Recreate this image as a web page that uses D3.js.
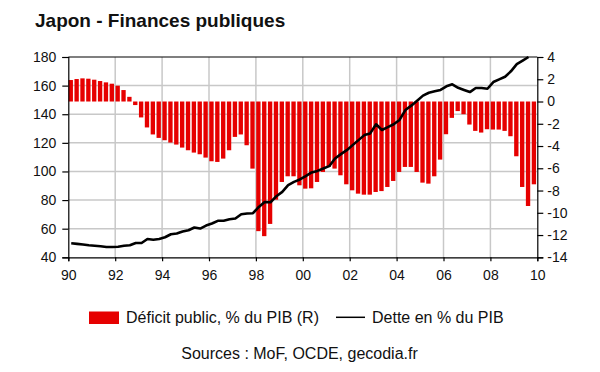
<!DOCTYPE html>
<html>
<head>
<meta charset="utf-8">
<script src="https://cdn.jsdelivr.net/npm/d3@7"></script>
<style>
  body { margin: 0; background: #fff; }
  svg text { font-family: "Liberation Sans", Arial, sans-serif; fill: #111; }
</style>
</head>
<body>
<svg id="chart" width="600" height="372"></svg>
<script>
// quarterly data, first quarter of 1990 onward
var startYear = 1990,
    endYear = 2010;

// Déficit public, % du PIB (right axis)
var deficit = [
    1.93, 2.02, 2.08, 2.05, 1.96, 1.84, 1.72, 1.6, 1.42, 1.03,
    0.42, -0.32, -1.43, -2.33, -2.96, -3.27, -3.48, -3.69, -3.87, -4.14,
    -4.38, -4.59, -4.74, -5.04, -5.37, -5.43, -5.13, -4.38, -3.18, -2.96,
    -3.93, -6.03, -11.65, -12.1, -11.0, -8.82, -7.23, -6.72, -6.72, -7.53,
    -7.83, -7.8, -7.23, -6.33, -5.88, -6.03, -6.63, -7.44, -7.98, -8.28,
    -8.37, -8.37, -8.13, -8.05, -7.68, -7.14, -6.33, -5.88, -5.88, -6.33,
    -7.29, -7.38, -6.72, -5.22, -2.94, -1.47, -0.86, -1.14, -2.07, -2.64,
    -2.79, -2.49, -2.52, -2.52, -2.64, -3.12, -4.92, -7.68, -9.39, -7.44
];

// Dette en % du PIB (left axis)
var debt = [
    49.8, 49.4, 48.9, 48.4, 48.1, 47.7, 47.2, 47.2, 47.4, 48.1,
    48.4, 50, 50, 52.8, 52.3, 52.8, 54.0, 56.1, 56.6, 58.0,
    58.9, 60.8, 60.1, 62.2, 63.6, 65.5, 65.5, 66.6, 67.1, 70.1,
    70.6, 70.8, 75.2, 78.7, 78.5, 82.7, 85.7, 90.4, 92.7, 94.4,
    96.7, 99.3, 100.4, 102.1, 103.7, 109.1, 112.1, 114.9, 118.4, 121.9,
    125.4, 126.6, 133, 129, 131, 133, 136, 142.9, 146, 149.5,
    153, 155, 156, 157, 159.5, 160.9, 158.5, 157, 155.5, 158.3,
    158.3, 157.8, 162.5, 164.4, 166.2, 170, 175, 177.5, 180
];

var leftTicks = [40, 60, 80, 100, 120, 140, 160, 180],
    rightTicks = [4, 2, 0, -2, -4, -6, -8, -10, -12, -14],
    yearTicks = [1990, 1992, 1994, 1996, 1998, 2000, 2002, 2004, 2006, 2008, 2010];

var title = 'Japon - Finances publiques',
    legendLabels = ['Déficit public, % du PIB (R)', 'Dette en % du PIB'],
    sourceText = 'Sources : MoF, OCDE, gecodia.fr';

var margin = {left: 68.3, right: 62.7, top: 57, bottom: 114.7},
    width = 600 - margin.left - margin.right,
    height = 372 - margin.top - margin.bottom,
    barColor = '#e60000',
    gridColor = '#c8c8c8';

var svg = d3.select('#chart');

svg.append('text')
    .attr('x', 35)
    .attr('y', 27)
    .attr('font-size', 19)
    .attr('font-weight', 'bold')
    .text(title);

var g = svg.append('g')
    .attr('transform', 'translate(' + margin.left + ',' + margin.top + ')');

var x = d3.scaleLinear().domain([startYear, endYear]).range([0, width]),
    yLeft = d3.scaleLinear().domain([40, 180]).range([height, 0]),
    yRight = d3.scaleLinear().domain([-14, 4]).range([height, 0]);

var quarterWidth = x(startYear + 0.25) - x(startYear),
    barWidth = quarterWidth * 0.74;

function quarterTime(i) {
    return startYear + i / 4;
}

// grid
g.append('g')
    .selectAll('line.h')
    .data(leftTicks.slice(1, -1))
    .enter()
    .append('line')
        .attr('x1', 0)
        .attr('x2', width)
        .attr('y1', yLeft)
        .attr('y2', yLeft)
        .attr('stroke', gridColor)
        .attr('stroke-width', 1.5);

g.append('g')
    .selectAll('line.v')
    .data(yearTicks.slice(1, -1))
    .enter()
    .append('line')
        .attr('x1', x)
        .attr('x2', x)
        .attr('y1', 0)
        .attr('y2', height)
        .attr('stroke', gridColor)
        .attr('stroke-width', 1.5);

// deficit bars
g.append('g')
    .selectAll('rect')
    .data(deficit)
    .enter()
    .append('rect')
        .attr('x', function(d, i) { return x(quarterTime(i)) + 0.3; })
        .attr('width', barWidth)
        .attr('y', function(d) { return yRight(Math.max(0, d)); })
        .attr('height', function(d) { return Math.abs(yRight(d) - yRight(0)); })
        .attr('fill', barColor);

// debt line
var line = d3.line()
    .x(function(d, i) { return x(quarterTime(i) + 0.125); })
    .y(function(d) { return yLeft(d); });

g.append('path')
    .datum(debt)
    .attr('d', line)
    .attr('fill', 'none')
    .attr('stroke', '#000')
    .attr('stroke-width', 2.6)
    .attr('stroke-linejoin', 'round');

// top border
g.append('line')
    .attr('x1', 0)
    .attr('x2', width)
    .attr('y1', 0)
    .attr('y2', 0)
    .attr('stroke', '#000')
    .attr('stroke-width', 1.2);

// axes
function styleAxis(sel) {
    sel.select('.domain').attr('stroke', '#000').attr('stroke-width', 1.2);
    sel.selectAll('.tick line').attr('stroke', '#000').attr('stroke-width', 1.2);
    sel.selectAll('.tick text')
        .attr('font-size', 14)
        .attr('font-family', '"Liberation Sans", Arial, sans-serif')
        .attr('fill', '#111');
}

g.append('g')
    .call(d3.axisLeft(yLeft).tickValues(leftTicks).tickSizeOuter(0).tickSize(6).tickPadding(6))
    .call(styleAxis);

g.append('g')
    .attr('transform', 'translate(' + width + ',0)')
    .call(d3.axisRight(yRight).tickValues(rightTicks).tickSizeOuter(0).tickSize(6).tickPadding(4)
        .tickFormat(function(d) { return String(d); }))
    .call(styleAxis);

g.append('g')
    .attr('transform', 'translate(0,' + height + ')')
    .call(d3.axisBottom(x).tickValues(yearTicks).tickSizeOuter(0).tickSize(4).tickPadding(9)
        .tickFormat(function(d) { return String(d % 100).padStart(2, '0'); }))
    .call(styleAxis);

// legend
var legend = svg.append('g');

legend.append('rect')
    .attr('x', 89)
    .attr('y', 311.5)
    .attr('width', 30)
    .attr('height', 12.5)
    .attr('fill', barColor);

legend.append('text')
    .attr('x', 126)
    .attr('y', 323)
    .attr('font-size', 16)
    .text(legendLabels[0]);

legend.append('line')
    .attr('x1', 336)
    .attr('x2', 365)
    .attr('y1', 317.3)
    .attr('y2', 317.3)
    .attr('stroke', '#000')
    .attr('stroke-width', 1.5);

legend.append('text')
    .attr('x', 372)
    .attr('y', 323)
    .attr('font-size', 16)
    .text(legendLabels[1]);

svg.append('text')
    .attr('x', 299.5)
    .attr('y', 358.5)
    .attr('text-anchor', 'middle')
    .attr('font-size', 16)
    .text(sourceText);
</script>
</body>
</html>
